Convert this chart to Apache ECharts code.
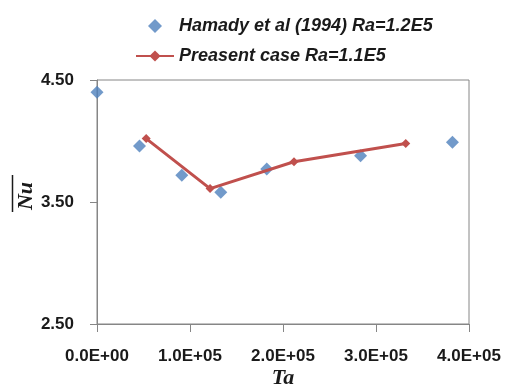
<!DOCTYPE html>
<html>
<head>
<meta charset="utf-8">
<script src="https://cdn.jsdelivr.net/npm/echarts@6/dist/echarts.min.js"></script>
<style>
  html, body { margin: 0; padding: 0; background: #fff; }
  #chart { width: 505px; height: 388px; }
</style>
</head>
<body>
<div id="chart"></div>
<script>
// Hamady et al (1994), Ra = 1.2E5
const hamadyTa = [0, 45700, 91200, 133100, 182500, 283400, 382200];
const hamadyNu = [4.40, 3.96, 3.72, 3.58, 3.77, 3.88, 3.99];

// Present case, Ra = 1.1E5
const presentTa = [52900, 121600, 211800, 332000];
const presentNu = [4.02, 3.61, 3.83, 3.98];

const seriesNames = ['Hamady et al (1994) Ra=1.2E5', 'Preasent case Ra=1.1E5'];
const xTickLabels = ['0.0E+00', '1.0E+05', '2.0E+05', '3.0E+05', '4.0E+05'];
const yTickLabels = ['2.50', '3.50', '4.50'];

const X_MIN = 0, X_MAX = 400000, X_STEP = 100000;
const Y_MIN = 2.5, Y_MAX = 4.5, Y_STEP = 1;

const axisGrey = '#868686';
const blue = '#4F81BD';
const red = '#C0504D';
const tickFont = { fontFamily: '"Liberation Sans", Arial, sans-serif', fontWeight: 'bold', fontSize: 17, color: '#1a1a1a' };

const zip = (xs, ys) => xs.map((x, i) => [x, ys[i]]);

const chart = echarts.init(document.getElementById('chart'), null, { renderer: 'canvas' });

chart.setOption({
  animation: false,
  backgroundColor: '#fff',
  grid: {
    left: 97, right: 36, top: 80, bottom: 64,
    outerBoundsMode: 'none',
    containLabel: false,
    show: true, borderColor: axisGrey, borderWidth: 1, backgroundColor: 'transparent'
  },
  legend: {
    orient: 'vertical',
    left: 130,
    top: 12,
    itemWidth: 38,
    itemHeight: 14,
    itemGap: 12,
    textStyle: {
      fontFamily: '"Liberation Sans", Arial, sans-serif',
      fontStyle: 'italic',
      fontWeight: 'bold',
      fontSize: 18,
      color: '#1a1a1a'
    },
    data: [
      { name: seriesNames[0], icon: 'path://M0,-1L1,0L0,1L-1,0Z' },
      { name: seriesNames[1] }
    ]
  },
  xAxis: {
    type: 'value',
    min: X_MIN, max: X_MAX, interval: X_STEP,
    name: 'Ta',
    nameLocation: 'middle',
    nameMoveOverlap: false,
    nameGap: 43,
    nameTextStyle: {
      fontFamily: '"Liberation Serif", "Times New Roman", serif',
      fontStyle: 'italic', fontWeight: 'bold', fontSize: 22, color: '#1a1a1a'
    },
    axisLine: { show: true, lineStyle: { color: axisGrey, width: 1 } },
    axisTick: { show: true, length: 8, lineStyle: { color: axisGrey, width: 1 } },
    splitLine: { show: false },
    axisLabel: Object.assign({
      margin: 24,
      formatter: v => xTickLabels[Math.round((v - X_MIN) / X_STEP)]
    }, tickFont)
  },
  yAxis: {
    type: 'value',
    min: Y_MIN, max: Y_MAX, interval: Y_STEP,
    axisLine: { show: true, lineStyle: { color: axisGrey, width: 1 } },
    axisTick: { show: true, length: 7, lineStyle: { color: axisGrey, width: 1 } },
    splitLine: { show: false },
    axisLabel: Object.assign({
      margin: 23,
      formatter: v => yTickLabels[Math.round((v - Y_MIN) / Y_STEP)]
    }, tickFont)
  },
  graphic: [
    {
      type: 'text',
      x: 26, y: 196,
      rotation: Math.PI / 2,
      style: {
        text: 'Nu',
        align: 'center',
        verticalAlign: 'middle',
        font: 'italic bold 22px "Liberation Serif", "Times New Roman", serif',
        fill: '#1a1a1a'
      }
    },
    {
      type: 'line',
      shape: { x1: 12.5, y1: 175, x2: 12.5, y2: 212 },
      style: { stroke: '#1a1a1a', lineWidth: 1.5 }
    }
  ],
  series: [
    {
      name: seriesNames[0],
      type: 'scatter',
      symbol: 'diamond',
      symbolSize: 13,
      itemStyle: { color: blue },
      data: zip(hamadyTa, hamadyNu),
      z: 2
    },
    {
      name: seriesNames[1],
      type: 'line',
      symbol: 'diamond',
      symbolSize: 9,
      showAllSymbol: true,
      itemStyle: { color: red },
      lineStyle: { color: red, width: 3 },
      data: zip(presentTa, presentNu),
      z: 3
    }
  ]
});
</script>
</body>
</html>
